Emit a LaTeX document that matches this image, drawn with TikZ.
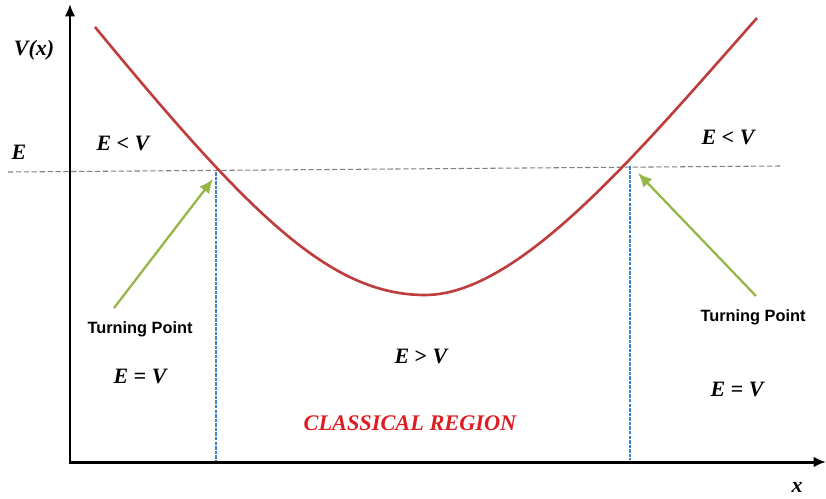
\documentclass[tikz,border=0pt]{standalone}
\usepackage{fontspec}
\setmainfont{Liberation Serif}
\newfontfamily\tpfont{Liberation Sans}
\usetikzlibrary{arrows.meta}
\definecolor{curvered}{RGB}{190,62,62}
\definecolor{tpgreen}{RGB}{150,182,72}
\definecolor{lineblue}{RGB}{60,130,200}
\definecolor{classred}{RGB}{220,30,35}
\begin{document}
\begin{tikzpicture}[x=0.02cm, y=-0.02cm,
  every node/.style={font=\bfseries\itshape\fontsize{12.5}{14}\selectfont, inner sep=0pt},
  axis/.style={line width=1.7pt, -{Latex[length=7pt,width=6pt]}},
  tparrow/.style={draw=tpgreen, line width=1.3pt, -{Latex[length=8pt,width=7pt]}},
  tplabel/.style={font=\tpfont\bfseries\fontsize{9.3}{11}\selectfont},
  boundary/.style={draw=lineblue, line width=0.8pt, densely dashed, dash pattern=on 2pt off 0.6pt}]
  \useasboundingbox (0,0) rectangle (826,498);

  % axes
  \coordinate (O) at (70,462);
  \coordinate (ytip) at (70,4);
  \coordinate (xtip) at (826,462);
  \draw[axis] (O) -- (ytip);
  \draw[axis] ([xshift=-0.85pt]O) -- (xtip);
  \node (ylab) at (34,50) {V(x)};
  \node (xlab) at (797,487) {x};

  % energy level
  \coordinate (eL) at (8,172);
  \coordinate (eR) at (780,166);
  \draw[gray, line width=0.6pt, dashed, dash pattern=on 3pt off 1.5pt] (eL) -- (eR);
  \node (elab) at (19,152) {E};

  % potential
  \draw[curvered, line width=1.5pt] (95,27) .. controls (250,215) and (330,295) .. (425,295)
    .. controls (520,295) and (640,150) .. (757,18);

  % turning points
  \coordinate (tpL) at (216,172);
  \coordinate (tpR) at (630,166);
  \coordinate (baseL) at (216,460);
  \coordinate (baseR) at (630,460);
  \draw[boundary] (tpL) -- (baseL);
  \draw[boundary] (tpR) -- (baseR);
  \coordinate (arL) at (114,308);
  \coordinate (arR) at (756,296);
  \draw[tparrow] (arL) -- ([shift={(-3,7)}]tpL);
  \draw[tparrow] (arR) -- ([shift={(8,7)}]tpR);
  \node[tplabel] (tpLlab) at (140,329) {Turning Point};
  \node[tplabel] (tpRlab) at (753,317) {Turning Point};

  % regions
  \node (ltL) at (123,143) {E {\upshape <} V};
  \node (ltR) at (728,137) {E {\upshape <} V};
  \node (eqL) at (140,376) {E = V};
  \node (gt) at (421,356) {E {\upshape >} V};
  \node (eqR) at (737,389) {E = V};
  \node[text=classred, font=\bfseries\itshape\fontsize{12.7}{14}\selectfont] (classical) at (410,423) {CLASSICAL REGION};
\end{tikzpicture}
\end{document}
